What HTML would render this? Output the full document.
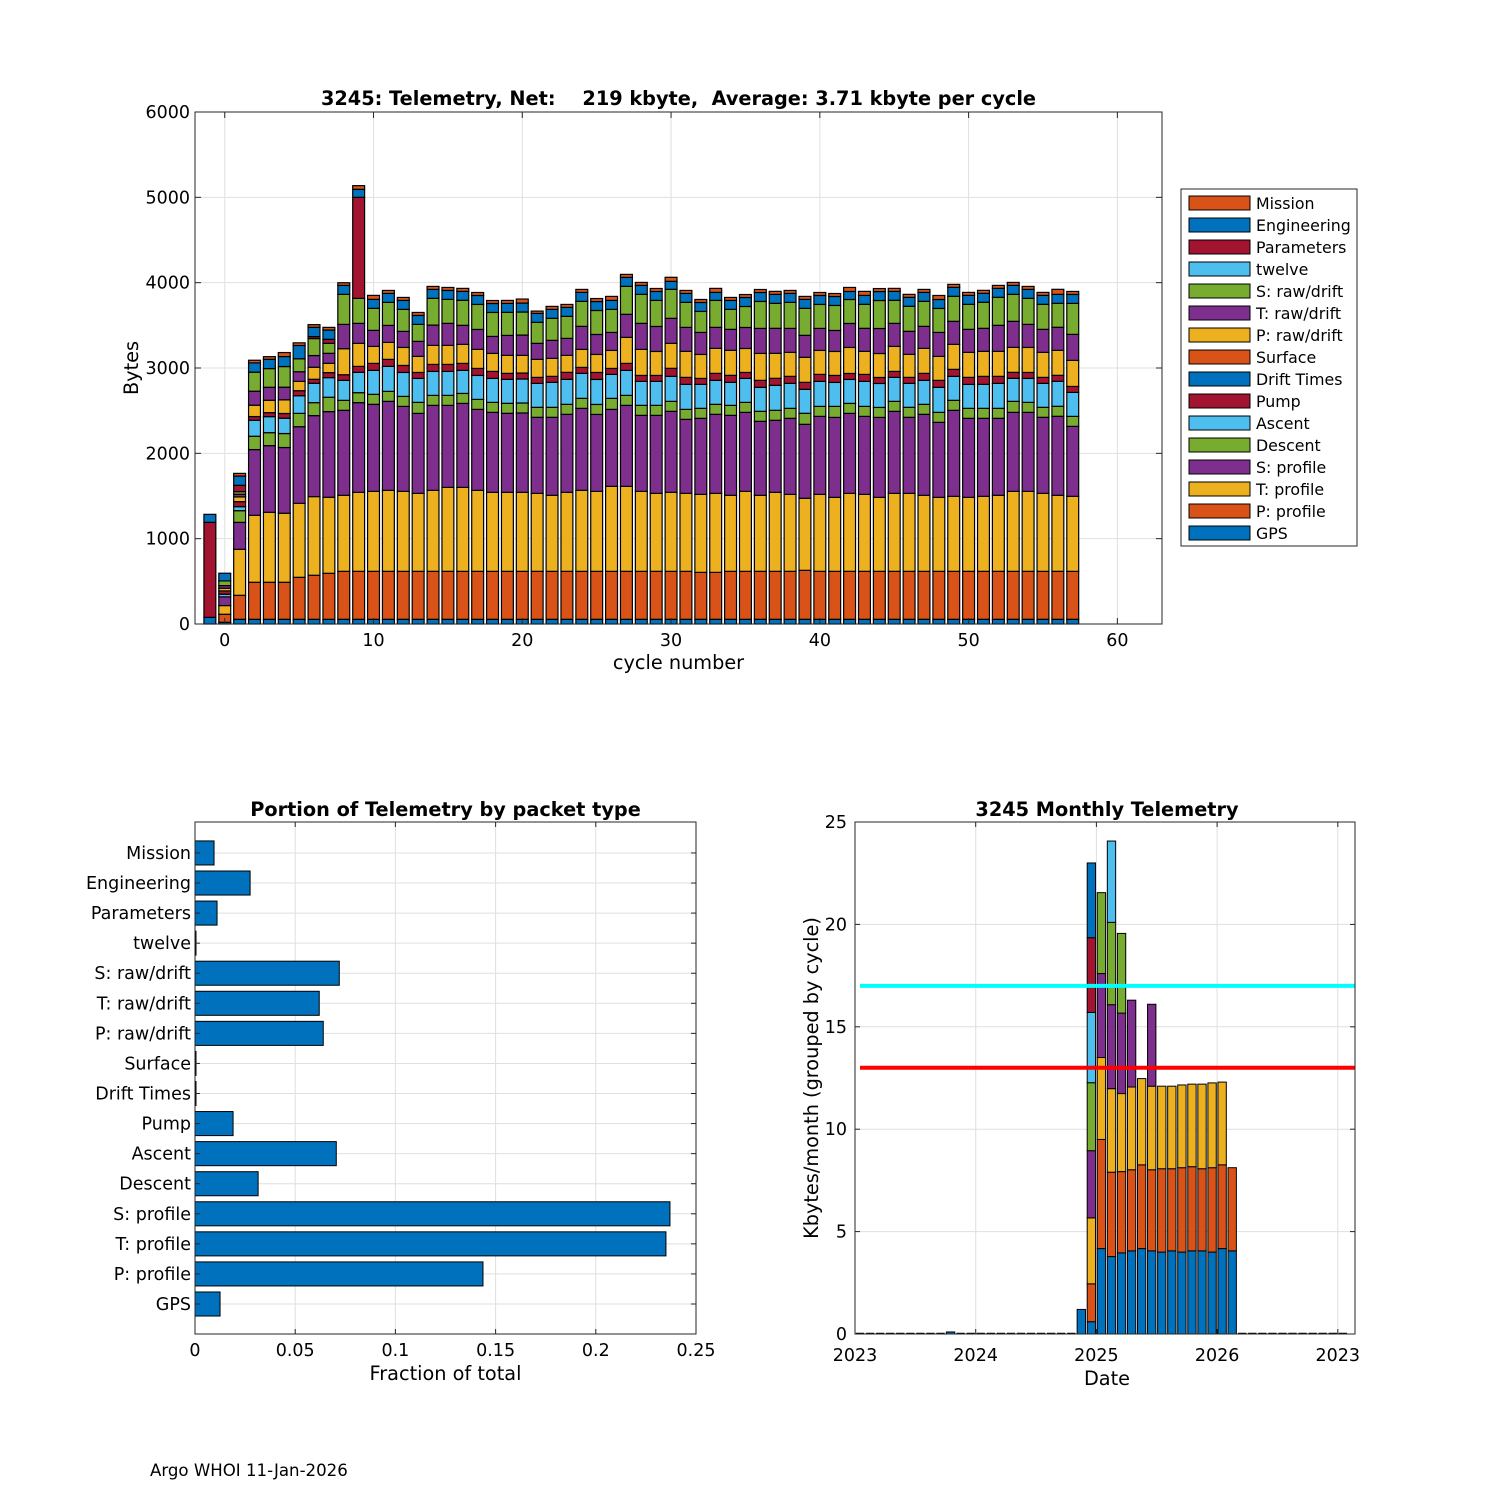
<!DOCTYPE html>
<html><head><meta charset="utf-8">
<style>
html,body{margin:0;padding:0;background:#fff;}
svg{display:block;font-family:"DejaVu Sans","Liberation Sans",sans-serif;}
</style></head>
<body>
<svg id="fig" width="1500" height="1500" viewBox="0 0 1500 1500" xmlns="http://www.w3.org/2000/svg">
<rect x="0" y="0" width="1500" height="1500" fill="#fff"/>
<g id="top"></g>
<g id="bl"></g>
<g id="br"></g>
<text x="150" y="1476" font-size="16.6" fill="#000">Argo WHOI 11-Jan-2026</text>
</svg>
<script>
// ---------- Top chart data (bytes per cycle) ----------
const cycles = [-1,0,1,2,3,4,5,6,7,8,9,10,11,12,13,14,15,16,17,18,19,20,21,22,23,24,25,26,27,28,29,30,31,32,33,34,35,36,37,38,39,40,41,42,43,44,45,46,47,48,49,50,51,52,53,54,55,56,57];
const seriesColors = ["#0072BD","#D95319","#EDB120","#7E2F8E","#77AC30","#4DBEEE","#A2142F","#0072BD","#D95319","#EDB120","#7E2F8E","#77AC30","#4DBEEE","#A2142F","#0072BD","#D95319"];
const gpsBytes = [78,20,55,55,55,55,55,55,55,55, 55,55,55,55,55,55,55,55,55,55, 55,55,55,55,55,55,55,55,55,55, 55,55,55,55,55,55,55,55,55,55, 55,55,55,55,55,55,55,55,55,55, 55,55,55,55,55,55,55,55,55];
const pProfile = [0,94,281,434,434,434,492,516,539,562, 562,562,562,562,562,562,562,562,562,562, 562,562,562,562,562,562,562,562,562,562, 562,562,562,550,550,562,562,562,562,562, 574,562,562,562,562,562,562,562,562,562, 562,562,562,562,562,562,562,562,562];
const tProfile = [0,102,539,785,820,809,867,922,891,891, 926,937,949,937,914,949,984,984,949,926, 926,926,914,891,926,949,937,996,996,937, 914,926,914,914,926,891,937,891,926,902, 844,902,867,914,902,867,914,914,891,867, 879,867,879,891,937,937,914,891,879];
const sProfile = [0,102,316,770,781,770,898,949,1004,996, 1051,1020,1043,996,937,996,961,984,949,937, 926,930,891,914,914,961,902,902,949,891, 914,949,867,891,926,937,926,867,844,891, 867,914,937,937,914,937,961,891,949,879, 1008,926,914,902,926,926,891,926,820];
const descent = [0,0,137,156,152,164,156,152,168,117, 117,117,117,117,129,117,117,117,117,117, 117,117,117,117,117,117,117,129,117,117, 117,117,117,117,117,117,117,117,117,117, 129,117,129,117,117,117,117,117,117,117, 117,117,117,117,129,117,117,117,117];
const ascent = [0,31,47,188,188,180,207,227,230,234, 238,281,293,281,281,281,281,270,281,281, 281,281,281,293,293,293,293,281,293,281, 281,293,293,281,281,270,281,281,293,293, 281,293,281,281,293,281,281,281,281,293, 281,281,281,293,270,281,281,293,281];
const pump = [1113,39,59,43,47,55,59,47,59,66, 70,82,82,82,70,82,82,82,82,82, 70,70,70,70,82,70,82,70,82,70, 70,94,82,70,82,82,70,82,82,82, 82,82,82,70,82,70,70,70,82,82, 82,82,94,82,70,70,70,70,70];
const driftTimes = [0,0,0,0,0,0,0,0,0,0, 0,0,0,0,0,0,0,0,0,0, 0,0,0,0,0,0,0,0,0,0, 0,0,0,0,0,0,0,0,0,0, 0,0,0,0,0,0,0,0,0,0, 0,0,0,0,0,0,0,0,0];
const surface = [0,0,0,0,0,0,0,0,0,0, 0,0,0,0,0,0,0,0,0,0, 0,0,0,0,0,0,0,0,0,0, 0,0,0,0,0,0,0,0,0,0, 0,0,0,0,0,0,0,0,0,0, 0,0,0,0,0,0,0,0,0];
const pRaw = [0,31,55,133,145,160,109,141,109,305, 270,199,199,211,188,223,223,223,223,211, 211,207,211,211,199,211,211,211,305,305, 281,293,305,281,293,293,281,316,293,281, 293,281,281,305,270,281,293,270,293,281, 293,293,293,293,293,293,293,293,305];
const tRaw = [0,31,31,164,152,148,113,137,117,285, 234,188,199,188,176,238,258,223,234,199, 234,238,188,211,199,270,234,211,270,305, 293,293,281,258,246,246,246,293,293,281, 258,258,246,281,270,293,270,270,258,281, 270,270,270,305,305,270,270,270,305];
const sRaw = [0,55,31,223,219,242,152,199,117,352, 293,258,270,258,199,313,281,293,293,281, 270,270,246,258,258,293,281,270,328,340, 305,340,293,246,316,234,246,316,293,305, 316,281,293,281,281,328,270,293,293,281, 293,293,305,328,316,305,293,281,363];
const twelve = [0,0,0,0,0,0,0,0,0,0, 0,0,0,0,0,0,0,0,0,0, 0,0,0,0,0,0,0,0,0,0, 0,0,0,0,0,0,0,0,0,0, 0,0,0,0,0,0,0,0,0,0, 0,0,0,0,0,0,0,0,0];
const parameters = [0,0,74,0,0,0,0,23,47,0, 1184,0,0,0,0,0,0,0,0,0, 0,0,0,0,0,0,0,0,0,0, 0,0,0,0,0,0,0,0,0,0, 0,0,0,0,0,0,0,0,0,0, 0,0,0,0,0,0,0,0,0];
const engineering = [94,90,109,109,109,117,156,109,109,105, 94,105,105,105,105,105,105,105,105,105, 105,105,105,105,105,105,105,105,105,105, 105,94,105,105,94,105,105,105,105,105, 105,105,105,94,105,105,105,105,105,105, 105,105,105,105,105,105,105,105,105];
const mission = [0,0,31,31,31,47,31,31,31,31, 43,47,35,35,35,35,35,35,35,35, 35,47,27,35,35,35,35,47,35,35, 35,47,35,35,47,35,35,35,35,35, 35,35,35,47,47,35,35,35,35,47, 35,35,35,35,35,35,35,59,35];
const topXTicks = [0,10,20,30,40,50,60];
const topYTicks = [0,1000,2000,3000,4000,5000,6000];
const legendNames = ["Mission","Engineering","Parameters","twelve","S: raw/drift","T: raw/drift","P: raw/drift","Surface","Drift Times","Pump","Ascent","Descent","S: profile","T: profile","P: profile","GPS"];

// ---------- Bottom-left data ----------
const packetTypes = ["GPS","P: profile","T: profile","S: profile","Descent","Ascent","Pump","Drift Times","Surface","P: raw/drift","T: raw/drift","S: raw/drift","twelve","Parameters","Engineering","Mission"];
const packetFractions = [0.0125,0.1437,0.235,0.237,0.0315,0.0705,0.019,0.0005,0.0005,0.064,0.062,0.072,0.0005,0.011,0.0275,0.0095];
const fracTicks = [0,0.05,0.1,0.15,0.2,0.25];
const fracTickLabels = ["0","0.05","0.1","0.15","0.2","0.25"];

// ---------- Bottom-right data (months since Jan 2023, stacked kbytes) ----------
const monthIndex = [0,1,2,3,4,5,6,7,8,9,10,11,12,13,14,15,16,17,18,19,20,21,22,23,24,25,26,27,28,29,30,31,32,33,34,35,36,37,38,39,40,41,42,43,44,45,46,47,48];
const monthStacks = {9:[0.1],22:[1.2],23:[0.6,1.85,3.22,3.28,3.32,3.43,3.65,3.65],24:[4.17,5.33,4.0,4.1,3.95],25:[3.78,4.12,4.08,4.1,4.02,3.97],26:[3.96,3.97,3.81,3.93,3.89],27:[4.06,3.96,4.04,4.24],28:[4.17,4.09,4.21],29:[4.06,3.96,4.08,4.0],30:[4.0,4.07,4.03],31:[4.06,4.01,4.03],32:[4.0,4.12,4.04],33:[4.06,4.11,4.03],34:[4.06,4.01,4.13],35:[4.0,4.12,4.14],36:[4.17,4.09,4.04],37:[4.06,4.06]};
const stackColors = ["#0072BD","#D95319","#EDB120","#7E2F8E","#77AC30","#4DBEEE","#A2142F","#0072BD"];
const limitHigh = 17;
const limitLow = 13;
const monthYTicks = [0,5,10,15,20,25];
const yearTicks = [2023,2024,2025,2026,2027];
const yearTickLabels = ["2023","2024","2025","2026","2023"];

const NS = "http://www.w3.org/2000/svg";
const TICK = 17.5, LAB = 19.3;
function mk(tag, parent){ const e=document.createElementNS(NS,tag); parent.appendChild(e); return e; }
function txt(parent, x, y, s, size, anchor, weight){
  const t=mk("text",parent); t.setAttribute("x",x); t.setAttribute("y",y);
  t.setAttribute("font-size",size); t.setAttribute("text-anchor",anchor||"middle");
  if(weight) t.setAttribute("font-weight",weight); t.textContent=s; return t;
}
function line(parent,x1,y1,x2,y2,stroke,w){
  const l=mk("line",parent); l.setAttribute("x1",x1); l.setAttribute("y1",y1); l.setAttribute("x2",x2); l.setAttribute("y2",y2);
  l.setAttribute("stroke",stroke); l.setAttribute("stroke-width",w||1); return l;
}
const GRID="#dfdfdf";

// ================= TOP CHART =================
(function(){
  const g=document.getElementById("top");
  const L=195,R=1162,T=112,B=624, xmin=-2,xmax=63, ymax=6000;
  const xS=c=>L+(c-xmin)*(R-L)/(xmax-xmin);
  const yS=v=>B-v*(B-T)/ymax;
  for(const t of topXTicks){ const l=line(g,xS(t),T,xS(t),B,GRID,1);
      }
  for(const t of topYTicks){ const l=line(g,L,yS(t),R,yS(t),GRID,1);
      }
  const series=[gpsBytes,pProfile,tProfile,sProfile,descent,ascent,pump,driftTimes,surface,pRaw,tRaw,sRaw,twelve,parameters,engineering,mission];
  const bw=0.8*(R-L)/(xmax-xmin);
  cycles.forEach((c,i)=>{
    let acc=0;
    const bg=mk("g",g);
    
    
    series.forEach((s,k)=>{
      const v=s[i]; if(!v) return;
      const r=mk("rect",bg);
      r.setAttribute("x",xS(c)-bw/2); r.setAttribute("width",bw);
      r.setAttribute("y",yS(acc+v)); r.setAttribute("height",yS(acc)-yS(acc+v));
      r.setAttribute("fill",seriesColors[k]); r.setAttribute("stroke","#000"); r.setAttribute("stroke-width","1.2");
      
      
      acc+=v;
    });
  });
  const box=mk("rect",g); box.setAttribute("x",L); box.setAttribute("y",T); box.setAttribute("width",R-L); box.setAttribute("height",B-T);
  box.setAttribute("fill","none"); box.setAttribute("stroke","#262626"); box.setAttribute("stroke-width","1");
   
  for(const t of topXTicks){ line(g,xS(t),B,xS(t),B-6,"#262626",1); line(g,xS(t),T,xS(t),T+6,"#262626",1);
    const tl=txt(g,xS(t),B+22,String(t),TICK);   }
  for(const t of topYTicks){ line(g,L,yS(t),L+6,yS(t),"#262626",1); line(g,R,yS(t),R-6,yS(t),"#262626",1);
    const tl=txt(g,L-5,yS(t)+6,String(t),TICK,"end");   }
  const ti=txt(g,(L+R)/2,105,"3245: Telemetry, Net:    219 kbyte,  Average: 3.71 kbyte per cycle",LAB,"middle","bold");
  ti.setAttribute("xml:space","preserve"); ti.style.whiteSpace="pre";
   
  const xl=txt(g,(L+R)/2,669,"cycle number",LAB);  
  const yl=txt(g,0,0,"Bytes",LAB); yl.setAttribute("transform","translate(138,368) rotate(-90)");
   
  // legend
  const lg=mk("g",g);  
  const lb=mk("rect",lg); lb.setAttribute("x",1181); lb.setAttribute("y",189); lb.setAttribute("width",176); lb.setAttribute("height",357);
  lb.setAttribute("fill","#fff"); lb.setAttribute("stroke","#262626");
  const legendCols=["#D95319","#0072BD","#A2142F","#4DBEEE","#77AC30","#7E2F8E","#EDB120","#D95319","#0072BD","#A2142F","#4DBEEE","#77AC30","#7E2F8E","#EDB120","#D95319","#0072BD"];
  for(let j=0;j<16;j++){
    const y=203+j*22;
    const e=mk("g",lg);
    
    
    const s=mk("rect",e); s.setAttribute("x",1189); s.setAttribute("y",y-7); s.setAttribute("width",61); s.setAttribute("height",14);
    s.setAttribute("fill",legendCols[j]); s.setAttribute("stroke","#000"); s.setAttribute("stroke-width","1");
    txt(e,1256,y+6,legendNames[j],15.8,"start");
  }
})();

// ================= BOTTOM LEFT =================
(function(){
  const g=document.getElementById("bl");
  const L=195,R=696,T=822,B=1334;
  const xS=f=>L+f*(R-L)/0.25;
  const step=30.07, y0=1304;
  const yS=i=>y0-i*step;
  fracTicks.forEach(t=>{ const l=line(g,xS(t),T,xS(t),B,GRID,1);   });
  packetTypes.forEach((n,i)=>{ const l=line(g,L,yS(i),R,yS(i),GRID,1);   });
  const bh=0.8*step;
  packetTypes.forEach((n,i)=>{
    const r=mk("rect",g);
    r.setAttribute("x",xS(0)); r.setAttribute("y",yS(i)-bh/2); r.setAttribute("width",xS(packetFractions[i])-xS(0)); r.setAttribute("height",bh);
    r.setAttribute("fill","#0072BD"); r.setAttribute("stroke","#000"); r.setAttribute("stroke-width","1");
    
    
    const tl=txt(g,L-4,yS(i)+6,n,TICK,"end");  
    line(g,L,yS(i),L+5,yS(i),"#262626",1); line(g,R,yS(i),R-5,yS(i),"#262626",1);
  });
  const box=mk("rect",g); box.setAttribute("x",L); box.setAttribute("y",T); box.setAttribute("width",R-L); box.setAttribute("height",B-T);
  box.setAttribute("fill","none"); box.setAttribute("stroke","#262626");
   
  fracTicks.forEach((t,i)=>{ line(g,xS(t),B,xS(t),B-5,"#262626",1); line(g,xS(t),T,xS(t),T+5,"#262626",1);
    const tl=txt(g,xS(t),B+22,fracTickLabels[i],TICK);   });
  const ti=txt(g,(L+R)/2,816,"Portion of Telemetry by packet type",LAB,"middle","bold");
   
  const xl=txt(g,(L+R)/2,1380,"Fraction of total",LAB);  
})();

// ================= BOTTOM RIGHT =================
(function(){
  const g=document.getElementById("br");
  const L=855,R=1355,T=822,B=1334;
  const xS=t=>L+(t-2023)*120.7;
  const yS=v=>B-v*(B-T)/25;
  yearTicks.forEach(t=>{ const l=line(g,xS(t),T,xS(t),B,GRID,1);   });
  monthYTicks.forEach(t=>{ const l=line(g,L,yS(t),R,yS(t),GRID,1);   });
  const bw=0.83*120.7/12;
  monthIndex.forEach(m=>{
    const cx=xS(2023+(m+0.5)/12);
    const segs=monthStacks[m];
    if(!segs){
      const l=line(g,cx-bw/2,B-0.5,cx+bw/2,B-0.5,"#000",1.5);
      
      
      return;
    }
    let acc=0;
    segs.forEach((v,k)=>{
      const r=mk("rect",g);
      r.setAttribute("x",cx-bw/2); r.setAttribute("width",bw);
      r.setAttribute("y",yS(acc+v)); r.setAttribute("height",yS(acc)-yS(acc+v));
      r.setAttribute("fill",stackColors[k%stackColors.length]); r.setAttribute("stroke","#000"); r.setAttribute("stroke-width","1");
      
      
      acc+=v;
    });
  });
  const hl=line(g,860,yS(limitHigh),R,yS(limitHigh),"#00FFFF",4);
   
  const ll=line(g,860,yS(limitLow),R,yS(limitLow),"#FF0000",4);
   
  const box=mk("rect",g); box.setAttribute("x",L); box.setAttribute("y",T); box.setAttribute("width",R-L); box.setAttribute("height",B-T);
  box.setAttribute("fill","none"); box.setAttribute("stroke","#262626");
   
  monthYTicks.forEach(t=>{ line(g,L,yS(t),L+5,yS(t),"#262626",1); line(g,R,yS(t),R-5,yS(t),"#262626",1);
    const tl=txt(g,L-8,yS(t)+6,String(t),TICK,"end");   });
  yearTicks.forEach((t,i)=>{ line(g,xS(t),B,xS(t),B-5,"#262626",1); line(g,xS(t),T,xS(t),T+5,"#262626",1);
    const tl=txt(g,xS(t),B+27,yearTickLabels[i],TICK);   });
  const ti=txt(g,1107,816,"3245 Monthly Telemetry",LAB,"middle","bold");
   
  const xl=txt(g,1107,1385,"Date",LAB);  
  const yl=txt(g,0,0,"Kbytes/month (grouped by cycle)",LAB); yl.setAttribute("transform","translate(818,1078) rotate(-90)");
   
})();
</script>
</body></html>
